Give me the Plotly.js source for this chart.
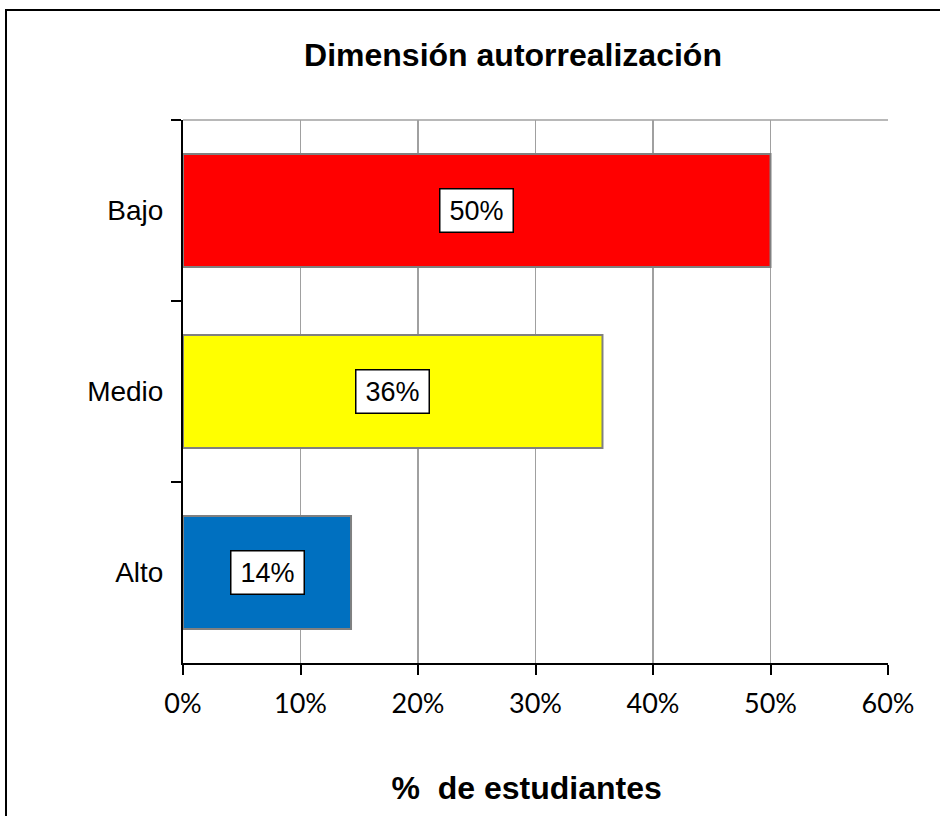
<!DOCTYPE html>
<html>
<head>
<meta charset="utf-8">
<script src="https://cdn.plot.ly/plotly-3.0.1.min.js"></script>
<style>
  html, body { margin: 0; padding: 0; background: #fff; }
  #wrap { position: relative; width: 940px; height: 816px; overflow: hidden; }
  #chart { position: absolute; left: 0; top: 0; width: 940px; height: 816px; }
  #frame { position: absolute; left: 5px; top: 9px; width: 1000px; height: 900px;
           border-left: 2px solid #000; border-top: 2px solid #000; pointer-events: none; }
</style>
</head>
<body>
<div id="wrap">
  <div id="chart"></div>
  <div id="frame"></div>
</div>
<script>
// Data
const categories = ['Bajo', 'Medio', 'Alto'];
const values = [50, 35.7, 14.3];
const barColors = ['#FF0000', '#FFFF00', '#0070C0'];
const xTickVals = [0, 10, 20, 30, 40, 50, 60];
const xTickText = ['0%', '10%', '20%', '30%', '40%', '50%', '60%'];
const chartTitle = 'Dimensión autorrealización';
const xTitle = '%\u00A0 de estudiantes\u00A0\u00A0';

const trace = {
  type: 'bar',
  orientation: 'h',
  y: categories,
  x: values,
  marker: { color: barColors, line: { color: '#808080', width: 2 } },
  hoverinfo: 'none'
};

const annotations = categories.map((c, i) => ({
  x: values[i] / 2, y: c, xref: 'x', yref: 'y',
  text: Math.round(values[i]) + '%',
  showarrow: false,
  font: { family: 'Liberation Sans, Arial, sans-serif', size: 27, color: '#000' },
  bgcolor: '#FFFFFF', bordercolor: '#000000', borderwidth: 1.5, borderpad: 1,
  width: 70, height: 40
}));

const layout = {
  width: 940, height: 816,
  margin: { l: 183, r: 52, t: 120, b: 153 },
  paper_bgcolor: '#FFFFFF', plot_bgcolor: '#FFFFFF',
  showlegend: false,
  bargap: 0.375,
  title: {
    text: '<b>' + chartTitle + '</b>',
    font: { family: 'Liberation Sans, Arial, sans-serif', size: 32, color: '#000' },
    x: 513 / 940, xref: 'container', xanchor: 'center',
    y: 1 - 55 / 816, yref: 'container', yanchor: 'middle'
  },
  xaxis: {
    range: [0, 60],
    tickvals: xTickVals, ticktext: xTickText,
    showgrid: true, gridcolor: '#A0A0A0', gridwidth: 1.5,
    zeroline: false,
    showline: true, linecolor: '#000', linewidth: 2,
    ticks: 'outside', ticklen: 10, tickwidth: 2, tickcolor: '#000',
    tickfont: { family: 'Lato, Carlito, sans-serif', size: 27, color: '#000' },
    ticklabelstandoff: 6,
    fixedrange: true,
    title: {
      text: '<b>' + xTitle + '</b>',
      font: { family: 'Liberation Sans, Arial, sans-serif', size: 32, color: '#000' },
      standoff: 58
    }
  },
  yaxis: {
    type: 'category',
    autorange: 'reversed',
    showgrid: false, zeroline: false,
    showline: true, linecolor: '#000', linewidth: 2,
    ticks: 'outside', tickson: 'boundaries', ticklen: 10, tickwidth: 2, tickcolor: '#000',
    tickfont: { family: 'Liberation Sans, Arial, sans-serif', size: 28, color: '#000' },
    ticklabelstandoff: 12,
    fixedrange: true
  },
  shapes: [{
    type: 'line', xref: 'paper', yref: 'paper', x0: 0, x1: 1, y0: 1, y1: 1,
    line: { color: '#A0A0A0', width: 1.5 }, layer: 'below'
  }],
  annotations: annotations
};

Plotly.newPlot('chart', [trace], layout, { displayModeBar: false, staticPlot: true });
</script>
</body>
</html>
